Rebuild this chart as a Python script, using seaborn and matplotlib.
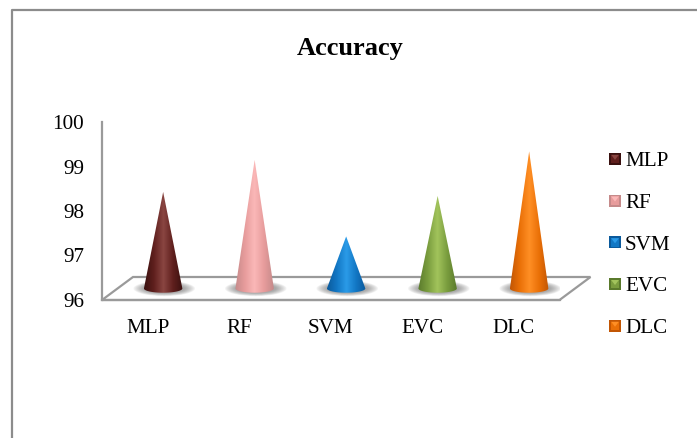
import matplotlib
matplotlib.use("Agg")
import matplotlib.pyplot as plt
import numpy as np
import seaborn as sns
from matplotlib.colors import LinearSegmentedColormap
from matplotlib.legend_handler import HandlerPatch
from matplotlib.lines import Line2D
from matplotlib.patches import Ellipse, Patch, PathPatch, Polygon, Rectangle
from matplotlib.path import Path
from matplotlib.transforms import ScaledTranslation

models = ["MLP", "RF", "SVM", "EVC", "DLC"]
accuracy = [98.17, 98.89, 97.17, 98.08, 99.08]
y_ticks = [96, 97, 98, 99, 100]

# edge, body, highlight per cone
edge_colors = ["#3a1110", "#c58a8a", "#0b5a9c", "#5a7a2c", "#c25604"]
body_colors = ["#5f1f1d", "#e79c9c", "#1277c4", "#7a9d3e", "#ea7007"]
light_colors = ["#8a4642", "#fbb8b8", "#2b9be8", "#a2c45c", "#ff8f25"]

FIG_W, FIG_H = 697, 438
AX_LEFT, AX_RIGHT, AX_TOP, AX_BOTTOM = 102, 559.5, 122, 300
GREY = "#9a9a9a"

sns.set_theme(style="white")
plt.rcParams["font.family"] = ["Liberation Serif", "DejaVu Serif"]

fig = plt.figure(figsize=(FIG_W / 100, FIG_H / 100), dpi=100)
ax = fig.add_axes([AX_LEFT / FIG_W, 1 - AX_BOTTOM / FIG_H,
                   (AX_RIGHT - AX_LEFT) / FIG_W, (AX_BOTTOM - AX_TOP) / FIG_H])

sns.barplot(x=models, y=accuracy, hue=models, palette=body_colors, width=0.42,
            legend=False, ax=ax)
ax.set_xlim(-0.5, 4.5)
ax.set_ylim(96, 100)
ax.set_yticks(y_ticks)
ax.tick_params(axis="both", length=0, labelsize=15.2, colors="black")
ax.tick_params(axis="y", pad=13)
ax.tick_params(axis="x", pad=14)
ax.patch.set_alpha(0)
sns.despine(ax=ax)
for side in ["left", "bottom"]:
    ax.spines[side].set_color(GREY)
    ax.spines[side].set_linewidth(1.6)

# floor of the 3D box, depth 31 px across and 23 px up
dx = 31 / (AX_RIGHT - AX_LEFT)
dy = 23 / (AX_BOTTOM - AX_TOP)
ax.add_patch(Polygon([(0, 0), (1, 0), (1 + dx, dy), (dx, dy)], closed=True,
                     transform=ax.transAxes, facecolor="white", edgecolor=GREY,
                     linewidth=1.6, clip_on=False, zorder=1))

# cones sit in the middle of the floor depth
shift = ax.transData + ScaledTranslation(15.4 / 100, 11.5 / 100, fig.dpi_scale_trans)

bars = list(ax.patches)[:len(models)]
for i, bar in enumerate(bars):
    bar.set_visible(False)
    cx = bar.get_x() + bar.get_width() / 2
    half = bar.get_width() / 2
    apex = bar.get_height()
    ry = 0.095

    # soft shadow under the base
    for k in range(10):
        grow = 1 - k / 10
        ax.add_patch(Ellipse((cx + 0.012, 96.0), 2 * half * (1 + 0.6 * grow), 2 * ry * (1 + 0.8 * grow),
                             transform=shift, facecolor="#606060", edgecolor="none",
                             alpha=0.07, zorder=2))

    theta = np.linspace(0, np.pi, 30)
    verts = [(cx, apex), (cx + half, 96.0)]
    verts += [(cx + half * np.cos(t), 96.0 - ry * np.sin(t)) for t in theta]
    verts += [(cx, apex)]
    codes = [Path.MOVETO] + [Path.LINETO] * (len(verts) - 2) + [Path.CLOSEPOLY]
    outline = PathPatch(Path(verts, codes), transform=shift, facecolor="none", edgecolor="none")
    ax.add_patch(outline)

    cmap = LinearSegmentedColormap.from_list(
        "cone", [edge_colors[i], body_colors[i], light_colors[i], body_colors[i], edge_colors[i]])
    im = ax.imshow(np.linspace(0, 1, 128).reshape(1, -1), cmap=cmap, aspect="auto",
                   extent=(cx - half, cx + half, 96.0 - ry, apex),
                   transform=shift, zorder=3, interpolation="bilinear")
    im.set_clip_path(outline)

ax.set_xlim(-0.5, 4.5)
ax.set_ylim(96, 100)


class SquareHandler(HandlerPatch):
    # bevelled square with a small light wedge, like the 3D legend keys
    def create_artists(self, legend, orig_handle, xdescent, ydescent, width, height, fontsize, trans):
        size = 12 * 0.72
        inset = size * 0.14
        x0 = (width - size) / 2 - xdescent
        y0 = (height - size) / 2 - ydescent
        rim = Rectangle((x0, y0), size, size, facecolor=orig_handle.get_edgecolor(),
                        edgecolor="none", transform=trans)
        body = Rectangle((x0 + inset, y0 + inset), size - 2 * inset, size - 2 * inset,
                         facecolor=orig_handle.get_facecolor(), edgecolor="none", transform=trans)
        wedge = Polygon([(x0 + size * 0.18, y0 + size * 0.84), (x0 + size * 0.82, y0 + size * 0.84),
                         (x0 + size * 0.5, y0 + size * 0.42)], closed=True,
                        facecolor=orig_handle.get_label(), edgecolor="none", transform=trans)
        return [rim, body, wedge]


handles = [Patch(facecolor=body_colors[i], edgecolor=edge_colors[i], label=light_colors[i])
           for i in range(len(models))]
fig.legend(handles, models, handler_map={Patch: SquareHandler()}, loc="upper left",
           bbox_to_anchor=(609 / FIG_W, 1 - 151.5 / FIG_H), frameon=False, fontsize=15.2,
           borderpad=0, borderaxespad=0, labelspacing=1.04, handlelength=0.57, handleheight=0.7,
           handletextpad=0.19, labelcolor="black")

fig.text(350 / FIG_W, 1 - 49 / FIG_H, "Accuracy", ha="center", va="center",
         fontsize=19, fontweight="bold", color="black")

# outer chart frame: only the top and left edges show, running off the picture
fig.add_artist(Line2D([11.5 / FIG_W, 11.5 / FIG_W, 1], [0, 1 - 10 / FIG_H, 1 - 10 / FIG_H],
                      transform=fig.transFigure, color="#8c8c8c", linewidth=1.6))

fig.savefig("out.png", dpi=100)
